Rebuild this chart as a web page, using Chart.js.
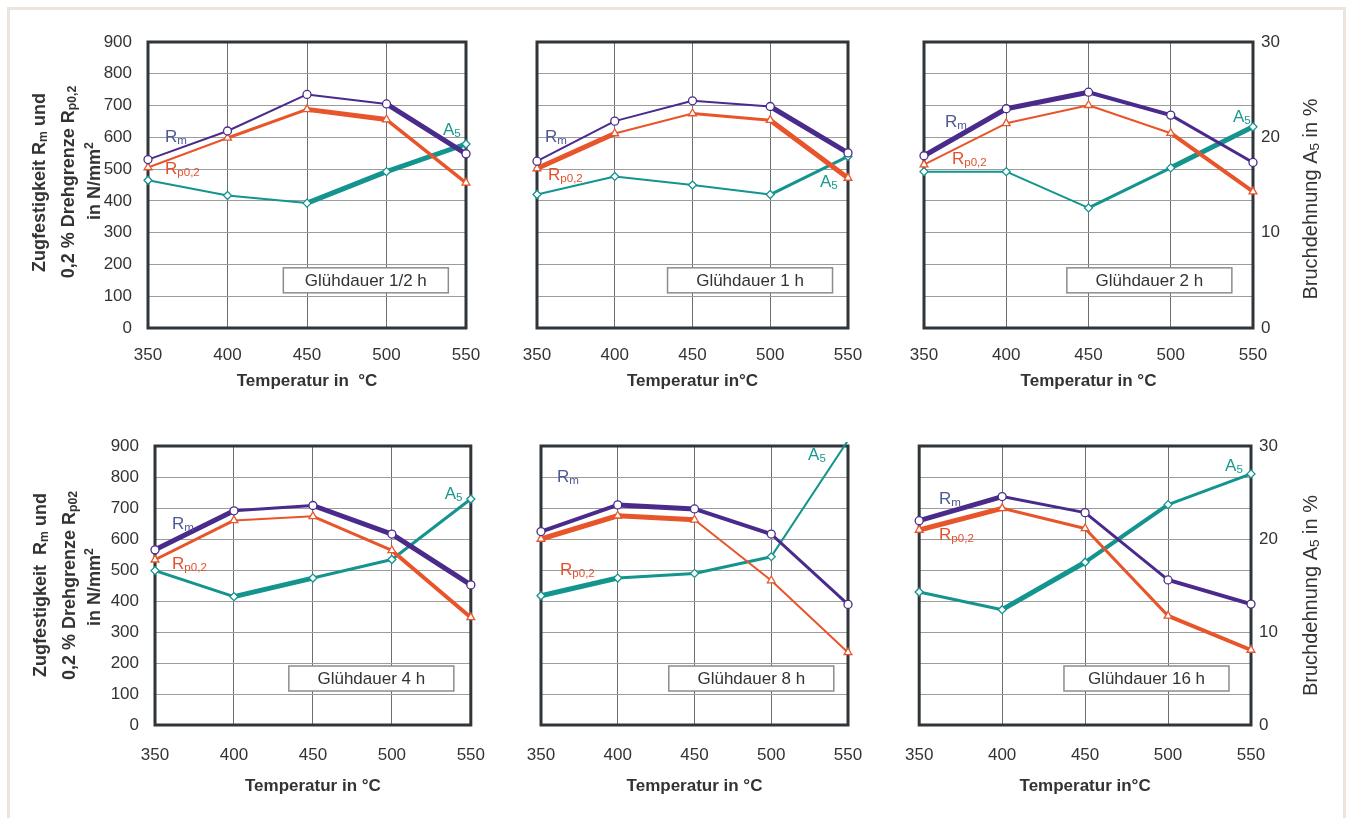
<!DOCTYPE html>
<html><head><meta charset="utf-8">
<script src="https://cdn.jsdelivr.net/npm/chart.js@4.4.1/dist/chart.umd.min.js"></script>
<style>
html,body{margin:0;padding:0;background:#fff;overflow:hidden}
#page{position:relative;width:1346px;height:818px;overflow:hidden;background:#fff}
#edge{position:absolute;left:7px;top:7px;width:1339px;height:840px;border:3px solid #ede4db;box-sizing:border-box}
canvas{position:absolute}
</style></head>
<body><div id="page"><div id="edge"></div></div>
<script>
// ---------------- DATA ----------------
const temps = [350, 400, 450, 500, 550];
const xTickVals = [350, 400, 450, 500, 550];
const leftTicks = [0, 100, 200, 300, 400, 500, 600, 700, 800, 900];
const rightTicks = [0, 10, 20, 30];

const durations = ['Glühdauer 1/2 h', 'Glühdauer 1 h', 'Glühdauer 2 h', 'Glühdauer 4 h', 'Glühdauer 8 h', 'Glühdauer 16 h'];
const xTitles = ['Temperatur in  °C', 'Temperatur in°C', 'Temperatur in °C', 'Temperatur in °C', 'Temperatur in °C', 'Temperatur in°C'];

const rm_05h = [530, 620, 735, 705, 548];
const rp_05h = [505, 598, 688, 656, 457];
const a5_05h = [15.5, 13.9, 13.1, 16.4, 19.3];

const rm_1h = [525, 651, 715, 697, 551];
const rp_1h = [502, 612, 675, 654, 472];
const a5_1h = [14.0, 15.9, 15.0, 14.0, 18.0];

const rm_2h = [542, 690, 742, 670, 521];
const rp_2h = [514, 644, 701, 613, 429];
const a5_2h = [16.4, 16.4, 12.6, 16.8, 21.1];

const rm_4h = [565, 691, 708, 616, 452];
const rp_4h = [533, 660, 673, 563, 347];
const a5_4h = [16.6, 13.8, 15.8, 17.8, 24.3];

const rm_8h = [624, 710, 697, 616, 389];
const rp_8h = [600, 675, 662, 466, 234];
const a5_8h = [13.9, 15.8, 16.3, 18.1, 30.6];

const rm_16h = [659, 737, 685, 468, 390];
const rp_16h = [629, 699, 634, 352, 242];
const a5_16h = [14.3, 12.4, 17.5, 23.7, 27.0];

const seriesRm = [rm_05h, rm_1h, rm_2h, rm_4h, rm_8h, rm_16h];
const seriesRp = [rp_05h, rp_1h, rp_2h, rp_4h, rp_8h, rp_16h];
const seriesA5 = [a5_05h, a5_1h, a5_2h, a5_4h, a5_8h, a5_16h];

// ---------------- STYLE / LAYOUT ----------------
const FONT = '"Liberation Sans", Arial, sans-serif';
const COL_RM = '#4a2b8c', COL_RP = '#e8552a', COL_A5 = '#13948f';
const LAB_RM = '#4d5894', LAB_RP = '#e4512d', LAB_A5 = '#1b9a8c';

// segment line widths (style only)
const segW = [
  {rm:[2,2,2,5], rp:[2,3,5,3.5], a5:[2,2,5,5]},
  {rm:[2,2,2,5], rp:[5,2,3,5], a5:[2,2,2,3]},
  {rm:[5,5,4,3], rp:[2,2,2,4], a5:[2,2,3,5]},
  {rm:[5,3,5,5], rp:[3,2,3,4], a5:[3,5,3,3]},
  {rm:[4,5,4,3], rp:[5,5,2,2], a5:[5,3,3,2]},
  {rm:[5,3,3,4], rp:[5,3,3,4], a5:[3,5,4,3]}
];
// curve label anchors in data units [temperature, left-axis value] (baseline-left)
const labelAt = [
  {rm:[360.7,585], rp:[360.7,485], a5:[535.5,607]},
  {rm:[355.1,585], rp:[357.1,466], a5:[532,444]},
  {rm:[362.8,633], rp:[367,516], a5:[537.8,648]},
  {rm:[360.8,632], rp:[360.8,503], a5:[533.5,729]},
  {rm:[360.4,784], rp:[362.4,484], a5:[524,855]},
  {rm:[362,713], rp:[362,597], a5:[534.4,819]}
];
const boxAt = [487, 150];

const geo = [
  {cx:0,   cy:0,   cw:500, ch:405, area:[148,42,466,328], left:true,  right:false, tickPad:17, titlePad:13},
  {cx:500, cy:0,   cw:380, ch:405, area:[537,42,848,328], left:false, right:false, tickPad:17, titlePad:13},
  {cx:880, cy:0,   cw:466, ch:405, area:[924,42,1253,328], left:false, right:true, tickPad:17, titlePad:13},
  {cx:0,   cy:405, cw:505, ch:413, area:[155,446,471,725], left:true,  right:false, tickPad:20, titlePad:21},
  {cx:505, cy:405, cw:380, ch:413, area:[541,446,848,725], left:false, right:false, tickPad:20, titlePad:21},
  {cx:885, cy:405, cw:461, ch:413, area:[918,446,1251,725], left:false, right:true, tickPad:20, titlePad:21}
];

const leftTitle = [
  [['Zugfestigkeit R',0],['m',1],[' und',0]],
  [['0,2 % Drehgrenze R',0],['p0,2',1]],
  [['in N/mm',0],['2',2]]
];
const leftTitle2 = [
  [['Zugfestigkeit  R',0],['m',1],[' und',0]],
  [['0,2 % Drehgrenze R',0],['p02',1]],
  [['in N/mm',0],['2',2]]
];
const rightTitle = [['Bruchdehnung A',0],['5',1],[' in %',0]];

// ---------------- DRAW HELPERS ----------------
function fontStr(size, weight){ return (weight||'normal') + ' ' + size + 'px ' + FONT; }
function drawRich(ctx, parts, x, y, size, weight, color, align){
  ctx.save();
  ctx.fillStyle = color; ctx.textBaseline = 'alphabetic'; ctx.textAlign = 'left';
  let w = 0;
  const sizes = parts.map(p => p[1] ? size*0.68 : size);
  parts.forEach((p,i) => { ctx.font = fontStr(sizes[i], weight); w += ctx.measureText(p[0]).width; });
  let cx = align === 'center' ? x - w/2 : x;
  parts.forEach((p,i) => {
    ctx.font = fontStr(sizes[i], weight);
    const dy = p[1] === 1 ? size*0.12 : (p[1] === 2 ? -size*0.4 : 0);
    ctx.fillText(p[0], cx, y + dy);
    cx += ctx.measureText(p[0]).width;
  });
  ctx.restore();
}
function drawRotated(ctx, parts, x, y, size, weight, color){
  ctx.save(); ctx.translate(x, y); ctx.rotate(-Math.PI/2);
  drawRich(ctx, parts, 0, 0, size, weight, color, 'center');
  ctx.restore();
}

const page = document.getElementById('page');

function makeChart(idx){
  const g = geo[idx];
  const cv = document.createElement('canvas');
  cv.width = g.cw; cv.height = g.ch;
  cv.style.left = g.cx + 'px'; cv.style.top = g.cy + 'px';
  cv.style.width = g.cw + 'px'; cv.style.height = g.ch + 'px';
  page.appendChild(cv);
  const L = g.area[0]-g.cx, T = g.area[1]-g.cy, R = g.cx+g.cw-g.area[2], B = g.cy+g.ch-g.area[3];
  const sw = segW[idx];
  const ds = (label, vals, color, style, widths, axis, rad) => ({
    label, data: temps.map((t,i) => ({x:t, y:vals[i]})), yAxisID: axis,
    borderColor: color, backgroundColor: '#fff',
    pointBackgroundColor: '#fff', pointBorderColor: color, pointStyle: style,
    pointRadius: rad, pointBorderWidth: 1.3, borderWidth: 2,
    borderJoinStyle: 'round', borderCapStyle: 'round', tension: 0, fill: false,
    segment: { borderWidth: c => widths[c.p0DataIndex] },
    clip: {left: 8, right: 8, top: 4, bottom: 8}
  });
  const tickFont = {family: FONT, size: 17};
  const framePlugin = {
    id: 'frame' + idx,
    beforeDatasetsDraw(chart){
      const a = chart.chartArea, ctx = chart.ctx;
      ctx.save();
      ctx.strokeStyle = '#2f3538'; ctx.lineWidth = 3;
      ctx.strokeRect(a.left, a.top, a.right - a.left, a.bottom - a.top);
      const xs = chart.scales.x, ys = chart.scales.y;
      const bx = xs.getPixelForValue(boxAt[0]), by = ys.getPixelForValue(boxAt[1]);
      const bw = 165, bh = 25;
      ctx.fillStyle = '#fff'; ctx.fillRect(bx - bw/2, by - bh/2, bw, bh);
      ctx.strokeStyle = '#8c8c8c'; ctx.lineWidth = 1.5;
      ctx.strokeRect(bx - bw/2, by - bh/2, bw, bh);
      ctx.fillStyle = '#333'; ctx.font = fontStr(17); ctx.textAlign = 'center'; ctx.textBaseline = 'middle';
      ctx.fillText(durations[idx], bx, by + 1);
      ctx.restore();
    },
    afterDatasetsDraw(chart){
      const ctx = chart.ctx, xs = chart.scales.x, ys = chart.scales.y;
      const la = labelAt[idx];
      const P = v => [xs.getPixelForValue(v[0]), ys.getPixelForValue(v[1])];
      let p = P(la.rm); drawRich(ctx, [['R',0],['m',1]], p[0], p[1], 17, 'normal', LAB_RM, 'left');
      p = P(la.rp); drawRich(ctx, [['R',0],['p0,2',1]], p[0], p[1], 17, 'normal', LAB_RP, 'left');
      p = P(la.a5); drawRich(ctx, [['A',0],['5',1]], p[0], p[1], 17, 'normal', LAB_A5, 'left');
      if (idx === 0) {
        drawRotated(ctx, leftTitle[0], 44.6 - g.cx, 182.5 - g.cy, 18, 'bold', '#333');
        drawRotated(ctx, leftTitle[1], 74 - g.cx, 182 - g.cy, 18, 'bold', '#333');
        drawRotated(ctx, leftTitle[2], 100.3 - g.cx, 181 - g.cy, 18, 'bold', '#333');
      }
      if (idx === 3) {
        drawRotated(ctx, leftTitle2[0], 46.2 - g.cx, 585 - g.cy, 18, 'bold', '#333');
        drawRotated(ctx, leftTitle2[1], 74.6 - g.cx, 585.5 - g.cy, 18, 'bold', '#333');
        drawRotated(ctx, leftTitle2[2], 100.2 - g.cx, 587 - g.cy, 18, 'bold', '#333');
      }
      if (idx === 2) drawRotated(ctx, rightTitle, 1317 - g.cx, 199 - g.cy, 20, 'normal', '#333');
      if (idx === 5) drawRotated(ctx, rightTitle, 1317 - g.cx, 595.5 - g.cy, 20, 'normal', '#333');
    }
  };
  new Chart(cv, {
    type: 'line',
    data: { datasets: [
      ds('Rm', seriesRm[idx], COL_RM, 'circle', sw.rm, 'y', 4),
      ds('Rp0,2', seriesRp[idx], COL_RP, 'triangle', sw.rp, 'y', 4.5),
      ds('A5', seriesA5[idx], COL_A5, 'rectRot', sw.a5, 'y2', 4)
    ]},
    options: {
      responsive: false, animation: false, devicePixelRatio: 1,
      layout: { padding: { left: 0, top: T, right: 0, bottom: 0 } },
      plugins: { legend: {display: false}, tooltip: {enabled: false}, title: {display: false} },
      scales: {
        x: {
          type: 'linear', min: 350, max: 550,
          afterBuildTicks: s => { s.ticks = xTickVals.map(v => ({value: v})); },
          grid: { color: '#6e6e6e', lineWidth: 1, drawTicks: false },
          border: { display: false },
          ticks: { padding: g.tickPad, font: tickFont, color: '#333', maxRotation: 0, minRotation: 0, autoSkip: false },
          title: { display: true, text: xTitles[idx], font: {family: FONT, size: 17, weight: 'bold'}, color: '#333', padding: {top: 0, bottom: g.titlePad} },
          afterFit: s => { s.height = B; }
        },
        y: {
          type: 'linear', position: 'left', min: 0, max: 900,
          afterBuildTicks: s => { s.ticks = leftTicks.map(v => ({value: v})); },
          grid: { color: '#9c9c9c', lineWidth: 1, drawTicks: false },
          border: { display: false },
          ticks: { display: g.left, padding: 16, font: tickFont, color: '#333' },
          afterFit: s => { s.width = L; }
        },
        y2: {
          type: 'linear', position: 'right', min: 0, max: 30,
          afterBuildTicks: s => { s.ticks = rightTicks.map(v => ({value: v})); },
          grid: { display: false, drawTicks: false },
          border: { display: false },
          ticks: { display: g.right, padding: 8, font: tickFont, color: '#333' },
          afterFit: s => { s.width = R; }
        }
      }
    },
    plugins: [framePlugin]
  });
}
for (let i = 0; i < 6; i++) makeChart(i);
</script>
</body></html>
